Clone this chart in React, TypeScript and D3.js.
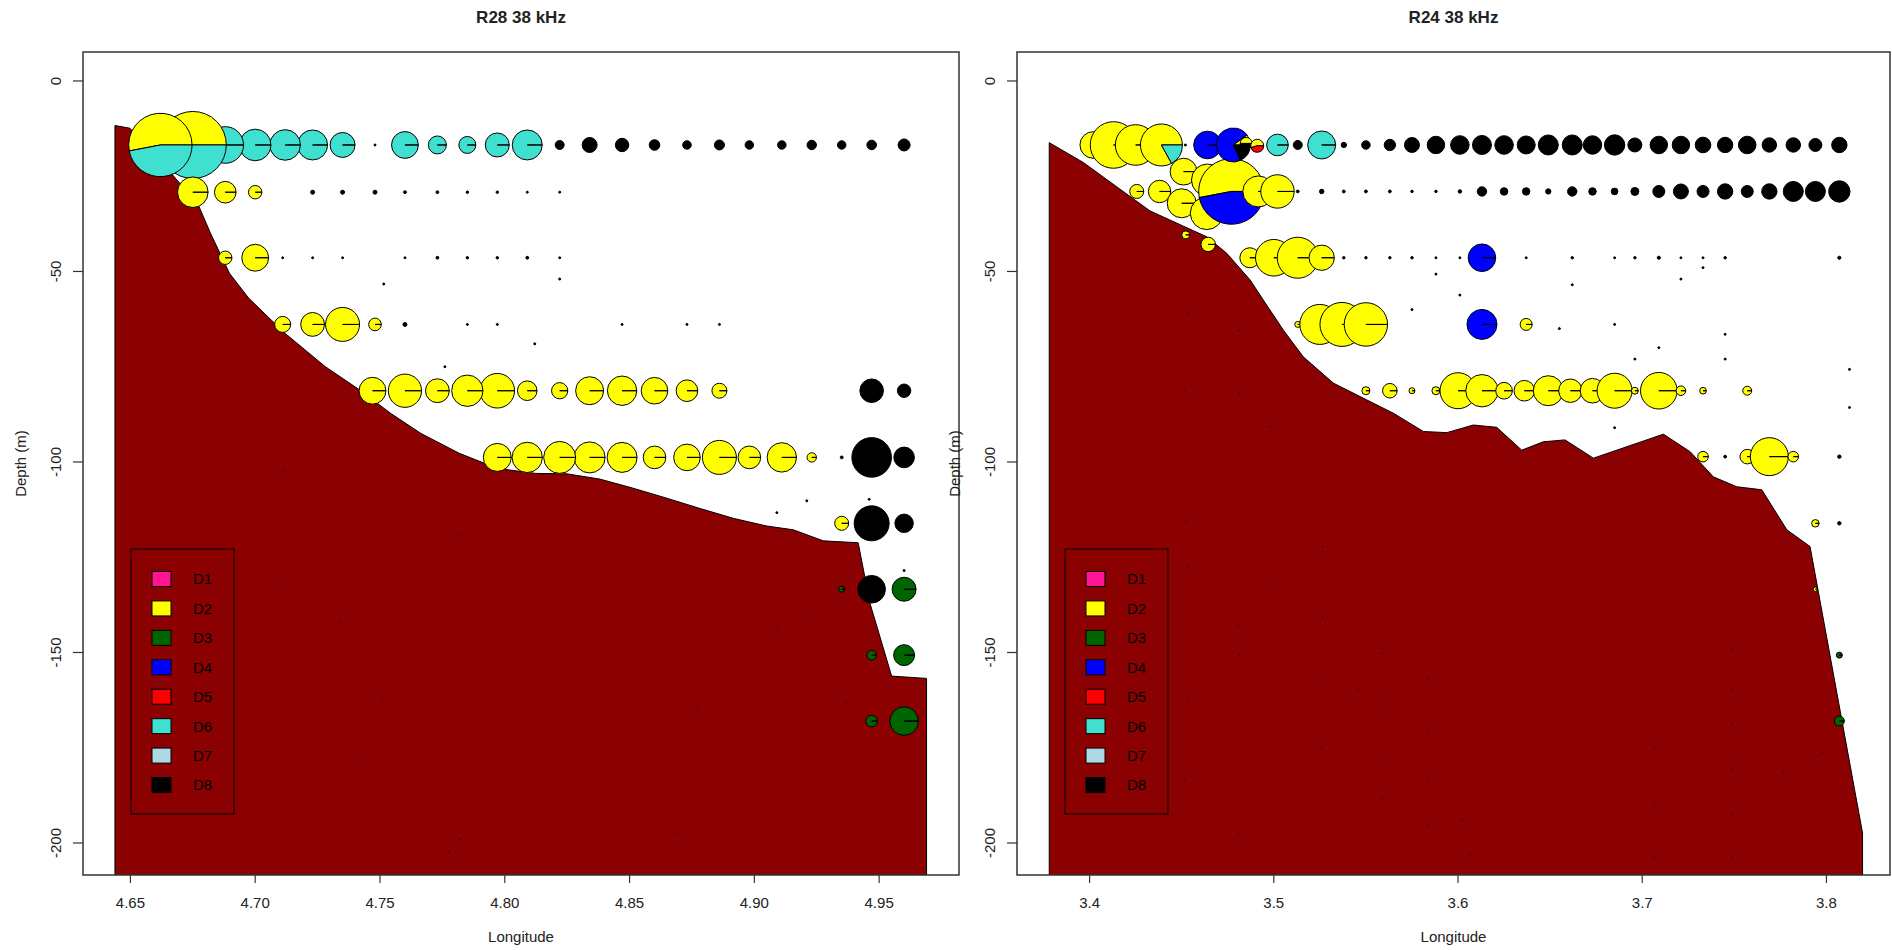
import React from "react";
import * as d3 from "d3";

// ---------- data ----------
const CLASS_NAMES = ["D1", "D2", "D3", "D4", "D5", "D6", "D7", "D8"];
const CLASS_COLORS = ["#FF1493", "#FFFF00", "#006400", "#0000FF", "#FF0000", "#40E0D0", "#ADD8E6", "#000000"];

const DEPTH_TICKS = [0, -50, -100, -150, -200];
const R28_X_TICKS = [4.65, 4.7, 4.75, 4.8, 4.85, 4.9, 4.95];
const R24_X_TICKS = [3.4, 3.5, 3.6, 3.7, 3.8];

// bathymetry (lon, depth)
const R28_BATHY: [number, number][] = [
  [4.6438, -11.7], [4.6498, -12.4], [4.6675, -25.1], [4.6775, -33.0], [4.6821, -40.0], [4.6897, -50.5],
  [4.6974, -57.0], [4.7051, -61.9], [4.7119, -66.2], [4.7281, -75.0], [4.7419, -81.1], [4.7542, -87.2],
  [4.7664, -92.5], [4.7817, -97.7], [4.7971, -101.7], [4.8124, -103.0], [4.8248, -103.1], [4.8381, -104.5],
  [4.8515, -106.9], [4.8649, -109.5], [4.8782, -112.2], [4.8916, -114.8], [4.9049, -116.8], [4.9156, -117.8],
  [4.9276, -120.7], [4.9416, -121.2], [4.9463, -137.0], [4.955, -156.2], [4.969, -156.8],
];
const R24_BATHY: [number, number][] = [
  [3.3781, -16.2], [3.3966, -21.4], [3.4154, -28.0], [3.4328, -34.1], [3.4509, -38.1], [3.4636, -40.9],
  [3.4744, -45.2], [3.4871, -52.2], [3.4943, -57.5], [3.5052, -65.4], [3.516, -72.4], [3.5323, -79.3],
  [3.5504, -83.7], [3.5649, -87.2], [3.5812, -92.0], [3.5939, -92.3], [3.6083, -90.3], [3.621, -90.9],
  [3.6346, -96.9], [3.6463, -94.7], [3.6581, -94.2], [3.6735, -99.0], [3.7115, -92.7], [3.726, -97.3],
  [3.7386, -103.9], [3.7513, -106.5], [3.7649, -107.3], [3.7785, -117.8], [3.7911, -122.2], [3.8196, -197.4],
];

// pies: [lon, depth, sA, composition "class:percent,..."]
const R28_PIES: [number, number, number, string][] = [
  [4.662, -16.8, 1005, "2:53,6:47"], [4.675, -16.8, 1122, "2:50,6:50"], [4.688, -16.8, 335, "6"],
  [4.700, -16.8, 250, "6"], [4.712, -16.8, 234, "6"], [4.723, -16.8, 225, "6"], [4.735, -16.8, 156, "6"],
  [4.748, -16.8, 1, "8"], [4.760, -16.8, 180, "6"], [4.773, -16.8, 81, "6"], [4.785, -16.8, 72, "6"],
  [4.797, -16.8, 144, "6"], [4.809, -16.8, 225, "6"], [4.822, -16.8, 20, "8"], [4.834, -16.8, 56, "8"],
  [4.847, -16.8, 45, "8"], [4.860, -16.8, 28, "8"], [4.873, -16.8, 18, "8"], [4.886, -16.8, 25, "8"],
  [4.898, -16.8, 18, "8"], [4.911, -16.8, 18, "8"], [4.923, -16.8, 22, "8"], [4.935, -16.8, 18, "8"],
  [4.947, -16.8, 23, "8"], [4.960, -16.8, 36, "8"],
  [4.675, -29.2, 234, "2"], [4.688, -29.2, 117, "2"], [4.700, -29.2, 45, "2"], [4.723, -29.2, 4, "8"],
  [4.735, -29.2, 4, "8"], [4.748, -29.2, 4, "8"], [4.760, -29.2, 2, "8"], [4.773, -29.2, 2, "8"],
  [4.785, -29.2, 1.5, "8"], [4.797, -29.2, 1.5, "8"], [4.809, -29.2, 1, "8"], [4.822, -29.2, 1, "8"],
  [4.688, -46.4, 45, "2"], [4.700, -46.4, 180, "2"], [4.711, -46.4, 1, "8"], [4.723, -46.4, 1, "8"],
  [4.735, -46.4, 1, "8"], [4.760, -46.4, 1, "8"], [4.773, -46.4, 2, "8"], [4.785, -46.4, 1.5, "8"],
  [4.797, -46.4, 1.5, "8"], [4.809, -46.4, 2, "8"], [4.822, -46.4, 1, "8"], [4.7515, -53.3, 1, "8"],
  [4.822, -52.0, 1, "8"],
  [4.711, -63.9, 64, "2"], [4.723, -63.9, 142, "2"], [4.735, -63.9, 289, "2"], [4.748, -63.9, 40, "2"],
  [4.760, -63.9, 4, "8"], [4.785, -63.9, 1, "8"], [4.797, -63.9, 1, "8"], [4.847, -63.9, 1, "8"],
  [4.873, -63.9, 1, "8"], [4.886, -63.9, 1, "8"], [4.812, -69.0, 1, "8"], [4.776, -75.0, 1, "8"],
  [4.747, -81.3, 180, "2"], [4.760, -81.3, 276, "2"], [4.773, -81.3, 142, "2"], [4.785, -81.3, 246, "2"],
  [4.797, -81.3, 299, "2"], [4.809, -81.3, 96, "2"], [4.822, -81.3, 66, "2"], [4.834, -81.3, 196, "2"],
  [4.847, -81.3, 216, "2"], [4.860, -81.3, 177, "2"], [4.873, -81.3, 117, "2"], [4.886, -81.3, 56, "2"],
  [4.947, -81.3, 139, "8"], [4.960, -81.3, 45, "8"],
  [4.797, -98.8, 196, "2"], [4.809, -98.8, 230, "2"], [4.822, -98.8, 256, "2"], [4.834, -98.8, 240, "2"],
  [4.847, -98.8, 225, "2"], [4.860, -98.8, 128, "2"], [4.873, -98.8, 177, "2"], [4.886, -98.8, 289, "2"],
  [4.898, -98.8, 128, "2"], [4.911, -98.8, 216, "2"], [4.923, -98.8, 22, "2"], [4.935, -98.8, 2, "8"],
  [4.947, -98.8, 392, "8"], [4.960, -98.8, 106, "8"],
  [4.921, -110.2, 1, "8"], [4.946, -109.8, 1, "8"], [4.909, -113.3, 1, "8"],
  [4.935, -116.1, 49, "2"], [4.947, -116.1, 306, "8"], [4.960, -116.1, 85, "8"], [4.960, -128.5, 1, "8"],
  [4.935, -133.4, 9, "3"], [4.947, -133.4, 190, "8"], [4.960, -133.4, 144, "3"],
  [4.947, -150.7, 23, "3"], [4.960, -150.7, 110, "3"],
  [4.947, -168.0, 34, "3"], [4.960, -168.0, 204, "3"],
];

const R24_PIES: [number, number, number, string][] = [
  [3.402, -16.8, 177, "2"], [3.413, -16.8, 543, "2"], [3.425, -16.8, 412, "2"], [3.439, -16.8, 441, "2:83,6:17"],
  [3.452, -16.8, 1, "8"], [3.464, -16.8, 190, "4"], [3.478, -16.8, 289, "2:10,4:72,8:18"],
  [3.485, -16.4, 36, "2:50,8:50"], [3.491, -17.0, 42, "2:55,5:45"], [3.502, -16.8, 117, "6"],
  [3.513, -16.8, 20, "8"], [3.526, -16.8, 196, "6"], [3.538, -16.8, 7, "8"], [3.550, -16.8, 18, "8"],
  [3.563, -16.8, 32, "8"], [3.575, -16.8, 56, "8"], [3.588, -16.8, 76, "8"], [3.601, -16.8, 86, "8"],
  [3.613, -16.8, 90, "8"], [3.625, -16.8, 86, "8"], [3.637, -16.8, 81, "8"], [3.649, -16.8, 100, "8"],
  [3.662, -16.8, 100, "8"], [3.673, -16.8, 85, "8"], [3.685, -16.8, 104, "8"], [3.696, -16.8, 49, "8"],
  [3.709, -16.8, 76, "8"], [3.721, -16.8, 76, "8"], [3.733, -16.8, 61, "8"], [3.745, -16.8, 59, "8"],
  [3.757, -16.8, 77, "8"], [3.769, -16.8, 52, "8"], [3.782, -16.8, 52, "8"], [3.794, -16.8, 42, "8"],
  [3.807, -16.8, 59, "8"],
  [3.4256, -29.0, 49, "2"], [3.438, -29.0, 125, "2"], [3.451, -23.8, 180, "2"], [3.450, -32.1, 210, "2"],
  [3.464, -26.0, 256, "2"], [3.4636, -34.7, 270, "2"], [3.477, -29.0, 1076, "2:53,4:47"],
  [3.4916, -29.0, 240, "2"], [3.502, -29.0, 279, "2"], [3.513, -29.0, 2, "8"], [3.526, -29.0, 5, "8"],
  [3.538, -29.0, 2, "8"], [3.550, -29.0, 2, "8"], [3.563, -29.0, 2, "8"], [3.575, -29.0, 1.5, "8"],
  [3.588, -29.0, 1.5, "8"], [3.601, -29.0, 3, "8"], [3.613, -29.0, 22, "8"], [3.625, -29.0, 14, "8"],
  [3.637, -29.0, 14, "8"], [3.649, -29.0, 7, "8"], [3.662, -29.0, 22, "8"], [3.673, -29.0, 14, "8"],
  [3.685, -29.0, 11, "8"], [3.696, -29.0, 16, "8"], [3.709, -29.0, 36, "8"], [3.721, -29.0, 56, "8"],
  [3.733, -29.0, 36, "8"], [3.745, -29.0, 59, "8"], [3.757, -29.0, 36, "8"], [3.769, -29.0, 59, "8"],
  [3.782, -29.0, 100, "8"], [3.794, -29.0, 100, "8"], [3.807, -29.0, 114, "8"],
  [3.4522, -40.4, 16, "2"], [3.4644, -42.9, 52, "2"],
  [3.487, -46.4, 100, "2"], [3.500, -46.4, 335, "2"], [3.513, -46.4, 420, "2"], [3.526, -46.4, 160, "2"],
  [3.538, -46.4, 1.5, "8"], [3.550, -46.4, 1.5, "8"], [3.563, -46.4, 1.5, "8"], [3.575, -46.4, 1.5, "8"],
  [3.588, -46.4, 1, "8"], [3.601, -46.4, 1, "8"], [3.613, -46.4, 190, "4"], [3.637, -46.4, 1, "8"],
  [3.662, -46.4, 1.5, "8"], [3.685, -46.4, 1, "8"], [3.696, -46.4, 1.5, "8"], [3.709, -46.4, 2.5, "8"],
  [3.721, -46.4, 1, "8"], [3.733, -46.4, 1, "8"], [3.745, -46.4, 1.5, "8"], [3.807, -46.4, 2.5, "8"],
  [3.588, -50.7, 1, "8"], [3.733, -49.0, 1, "8"], [3.662, -53.5, 1, "8"], [3.721, -52.0, 1, "8"],
  [3.601, -56.2, 1, "8"], [3.575, -60.0, 1, "8"],
  [3.513, -63.9, 9, "2"], [3.525, -63.9, 400, "2"], [3.537, -63.9, 484, "2"], [3.550, -63.9, 470, "2"],
  [3.613, -63.9, 225, "4"], [3.637, -63.9, 36, "2"], [3.655, -65.0, 1, "8"], [3.685, -63.9, 1, "8"],
  [3.745, -66.5, 1, "8"], [3.709, -70.0, 1, "8"], [3.696, -73.0, 1, "8"], [3.745, -73.0, 1, "8"],
  [3.8125, -75.7, 1, "8"],
  [3.550, -81.3, 16, "2"], [3.563, -81.3, 53, "2"], [3.575, -81.3, 9, "2"], [3.588, -81.3, 16, "2"],
  [3.600, -81.3, 324, "2"], [3.613, -81.3, 262, "2"], [3.625, -81.3, 69, "2"], [3.636, -81.3, 106, "2"],
  [3.649, -81.3, 225, "2"], [3.661, -81.3, 137, "2"], [3.673, -81.3, 151, "2"], [3.685, -81.3, 306, "2"],
  [3.696, -81.3, 12, "2"], [3.709, -81.3, 335, "2"], [3.721, -81.3, 23, "2"], [3.733, -81.3, 11, "2"],
  [3.757, -81.3, 20, "2"], [3.8125, -85.7, 1, "8"], [3.685, -91.0, 1, "8"],
  [3.733, -98.6, 28, "2"], [3.745, -98.6, 2, "8"], [3.757, -98.6, 53, "2"], [3.769, -98.6, 361, "2"],
  [3.782, -98.6, 28, "2"], [3.807, -98.6, 3, "8"],
  [3.794, -116.1, 14, "2"], [3.807, -116.1, 3, "8"],
  [3.794, -133.4, 5, "2"],
  [3.807, -150.7, 9, "3"],
  [3.807, -168.0, 25, "3"],
];

// tiny detections below the seabed line (lon, depth)
const R28_SEABED_DOTS: [number, number][] = [
  [4.712, -102.1], [4.7816, -119.2], [4.712, -133.3], [4.7344, -142.3], [4.751, -162.1], [4.7408, -178.7],
  [4.8774, -164.3], [4.9367, -163.3], [4.9094, -143.3], [4.9215, -139.6], [4.7822, -199.0], [4.7776, -202.3],
  [4.8681, -197.4],
];
const R24_SEABED_DOTS: [number, number][] = [
  [3.453, -61.0], [3.4813, -65.5], [3.4518, -81.1], [3.4813, -82.0], [3.4979, -90.7], [3.4522, -115.7],
  [3.5265, -122.2], [3.4533, -127.5], [3.4979, -131.4], [3.5265, -140.6], [3.4807, -142.8], [3.4813, -150.7],
  [3.5587, -150.2], [3.7486, -148.9], [3.5265, -158.3], [3.5459, -159.7], [3.5587, -163.5], [3.4529, -162.0],
  [3.7486, -159.7], [3.584, -157.0], [3.7486, -168.8], [3.584, -170.3], [3.5259, -174.9], [3.5587, -176.6],
  [3.7066, -174.9], [3.7976, -176.3], [3.7486, -180.4], [3.7767, -181.1], [3.4516, -183.3], [3.584, -183.7],
  [3.5587, -188.5], [3.7066, -189.4], [3.7486, -192.5], [3.584, -195.4], [3.6024, -194.0], [3.4807, -197.7],
  [3.6065, -202.9], [3.7066, -203.8], [3.7486, -204.0],
];

// ---------- helpers ----------
const FONT = "'Liberation Sans', Arial, Helvetica, sans-serif";
const rScale = d3.scaleSqrt().domain([0, 1156]).range([0, 34]);

function parseComp(c: string) {
  return c.split(",").map((s) => {
    const [k, f] = s.split(":");
    return { cls: +k, frac: f ? +f / 100 : 1 };
  });
}

function pieSlices(cx: number, cy: number, r: number, comp: string) {
  const slices = parseComp(comp);
  const total = d3.sum(slices, (s) => s.frac);
  let a0 = 0;
  return slices.map((s) => {
    const a1 = a0 + (s.frac / total) * 2 * Math.PI;
    const p = d3.path();
    p.moveTo(cx, cy);
    p.lineTo(cx + r * Math.cos(a0), cy - r * Math.sin(a0));
    p.arc(cx, cy, r, -a0, -a1, true);
    p.closePath();
    a0 = a1;
    return { d: p.toString(), color: CLASS_COLORS[s.cls - 1] };
  });
}

type PanelProps = {
  id: string;
  title: string;
  left: number;
  right: number;
  xDomain: [number, number];
  xTicks: number[];
  tickFmt: string;
  bathy: [number, number][];
  pies: [number, number, number, string][];
  dots: [number, number][];
  order: "asc" | "desc";
};

const TOP = 52;
const BOTTOM = 875;

function Panel(p: PanelProps) {
  const x = d3.scaleLinear().domain(p.xDomain).range([p.left, p.right]);
  const y = d3.scaleLinear().domain([7.6, -208.4]).range([TOP, BOTTOM]);
  const fmt = d3.format(p.tickFmt);

  const first = p.bathy[0];
  const last = p.bathy[p.bathy.length - 1];
  const poly: [number, number][] = [[first[0], -260], ...p.bathy, [last[0], -260]];
  const line = d3.line<[number, number]>().x((d) => x(d[0])).y((d) => y(d[1]));
  const bathyPath = line(poly) + "Z";

  const sorted = [...p.pies].sort((a, b) => (p.order === "asc" ? a[0] - b[0] : b[0] - a[0]));
  const cx = (p.left + p.right) / 2;
  const cy = (TOP + BOTTOM) / 2;
  const legX = p.left + 48;
  const legY = 549;

  return (
    <g>
      <defs>
        <clipPath id={`clip-${p.id}`}>
          <rect x={p.left} y={TOP} width={p.right - p.left} height={BOTTOM - TOP} />
        </clipPath>
      </defs>
      <g clipPath={`url(#clip-${p.id})`}>
        <path d={bathyPath} fill="#8B0000" stroke="#000" strokeWidth={1} />
        {p.dots.map((d, i) => (
          <circle key={`d${i}`} cx={x(d[0])} cy={y(d[1])} r={0.7} fill="#2a0000" />
        ))}
        {sorted.map((pie, i) => {
          const px = x(pie[0]);
          const py = y(pie[1]);
          const r = rScale(pie[2]);
          return (
            <g key={`p${i}`}>
              {pieSlices(px, py, r, pie[3]).map((s, j) => (
                <path key={j} d={s.d} fill={s.color} stroke="#000" strokeWidth={1} strokeLinejoin="round" />
              ))}
            </g>
          );
        })}
      </g>

      {/* legend */}
      <rect x={legX} y={legY} width={103} height={265} fill="none" stroke="#000" strokeWidth={1} />
      {CLASS_NAMES.map((name, i) => {
        const ry = 579 + i * 29.43;
        return (
          <g key={name}>
            <rect x={legX + 21} y={ry - 7.5} width={19} height={15} fill={CLASS_COLORS[i]} stroke="#000" strokeWidth={1} />
            <text x={legX + 62} y={ry + 5.4} fontSize={15} fontFamily={FONT} fill="#000">
              {name}
            </text>
          </g>
        );
      })}

      {/* frame */}
      <rect x={p.left} y={TOP} width={p.right - p.left} height={BOTTOM - TOP} fill="none" stroke="#333" strokeWidth={1.5} />

      {/* x axis */}
      {p.xTicks.map((t) => (
        <g key={`xt${t}`}>
          <line x1={x(t)} x2={x(t)} y1={BOTTOM} y2={BOTTOM + 8} stroke="#333" strokeWidth={1.2} />
          <text x={x(t)} y={908} textAnchor="middle" fontSize={15} fontFamily={FONT} fill="#222">
            {fmt(t)}
          </text>
        </g>
      ))}
      {/* y axis */}
      {DEPTH_TICKS.map((t) => (
        <g key={`yt${t}`}>
          <line x1={p.left - 10} x2={p.left} y1={y(t)} y2={y(t)} stroke="#333" strokeWidth={1.2} />
          <text
            transform={`translate(${p.left - 21.6},${y(t)}) rotate(-90)`}
            textAnchor="middle"
            fontSize={15}
            fontFamily={FONT}
            fill="#222"
          >
            {String(t)}
          </text>
        </g>
      ))}

      <text x={cx} y={942} textAnchor="middle" fontSize={15} fontFamily={FONT} fill="#222">
        Longitude
      </text>
      <text
        transform={`translate(${p.left - 56.6},${cy}) rotate(-90)`}
        textAnchor="middle"
        fontSize={15}
        fontFamily={FONT}
        fill="#222"
      >
        Depth (m)
      </text>
      <text x={cx} y={23} textAnchor="middle" fontSize={17} fontWeight="bold" fontFamily={FONT} fill="#222">
        {p.title}
      </text>
    </g>
  );
}

export default function App() {
  return (
    <svg
      width={1892}
      height={950}
      style={{ position: "absolute", left: 0, top: 0, display: "block", background: "#fff" }}
    >
      <rect x={0} y={0} width={1892} height={950} fill="#fff" />
      <Panel
        id="r28"
        title="R28 38 kHz"
        left={83}
        right={959}
        xDomain={[4.631, 4.982]}
        xTicks={R28_X_TICKS}
        tickFmt=".2f"
        bathy={R28_BATHY}
        pies={R28_PIES}
        dots={R28_SEABED_DOTS}
        order="desc"
      />
      <Panel
        id="r24"
        title="R24 38 kHz"
        left={1017}
        right={1890}
        xDomain={[3.3606, 3.8345]}
        xTicks={R24_X_TICKS}
        tickFmt=".1f"
        bathy={R24_BATHY}
        pies={R24_PIES}
        dots={R24_SEABED_DOTS}
        order="asc"
      />
    </svg>
  );
}
